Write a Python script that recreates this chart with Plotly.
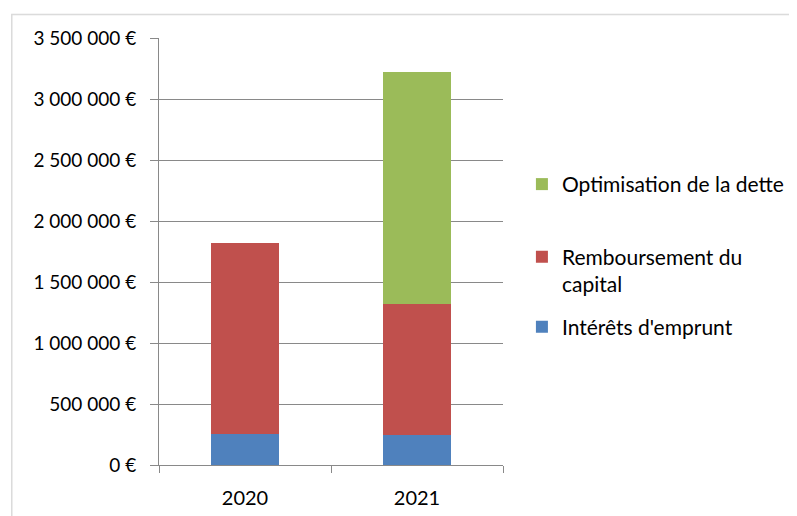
import plotly.graph_objects as go

# data
years = ["2020", "2021"]
interets = [256000, 246000]
remboursement = [1564000, 1076000]
optimisation = [0, 1902000]

y_ticks = [0, 500000, 1000000, 1500000, 2000000, 2500000, 3000000, 3500000]
y_labels = ["0 €", "500 000 €", "1 000 000 €", "1 500 000 €", "2 000 000 €",
            "2 500 000 €", "3 000 000 €", "3 500 000 €"]

grey = "#898989"
font = dict(family="Lato", size=19, color="#000000")
legend_font = dict(family="Lato", size=21, color="#000000")

fig = go.Figure()
fig.add_trace(go.Bar(x=years, y=interets, name="Intérêts d'emprunt",
                     marker_color="#4F81BD", legend="legend4"))
fig.add_trace(go.Bar(x=years, y=remboursement, name="Remboursement du<br>capital",
                     marker_color="#C0504D", legend="legend3"))
fig.add_trace(go.Bar(x=years, y=optimisation, name="Optimisation de la dette",
                     marker_color="#9BBB59", legend="legend2"))
fig.update_traces(marker_line_width=0, width=0.4, showlegend=True)

fig.update_xaxes(showline=True, linecolor=grey, linewidth=1,
                 ticks="outside", tickson="boundaries", ticklen=7, tickcolor=grey,
                 ticklabelstandoff=15, showgrid=False,
                 tickfont=dict(family="Lato", size=20, color="#000000"))
fig.update_yaxes(range=[0, 3500000], tickvals=y_ticks, ticktext=y_labels,
                 showline=True, linecolor=grey, linewidth=1,
                 ticks="outside", ticklen=8, tickcolor=grey, ticklabelstandoff=10,
                 showgrid=True, gridcolor=grey, gridwidth=1, zeroline=False)

legend_style = dict(font=legend_font, bgcolor="rgba(0,0,0,0)", xanchor="left",
                    yanchor="middle", valign="top", x=1.055, visible=True)

# the page body has an 8px margin, so margins are shifted by 8px
fig.update_layout(template="simple_white",
                  barmode="stack",
                  width=797, height=516,
                  margin=dict(l=151, r=302, t=30, b=59),
                  font=font,
                  plot_bgcolor="white", paper_bgcolor="white",
                  legend2=dict(legend_style, y=0.657),
                  legend3=dict(legend_style, y=0.4555),
                  legend4=dict(legend_style, y=0.323),
                  shapes=[dict(type="rect", xref="paper", yref="paper",
                               x0=-0.428, x1=1.95, y0=-0.4, y1=1.055,
                               line=dict(color=grey, width=1.5),
                               fillcolor="rgba(0,0,0,0)", layer="below")])

fig.write_html("out.html")
